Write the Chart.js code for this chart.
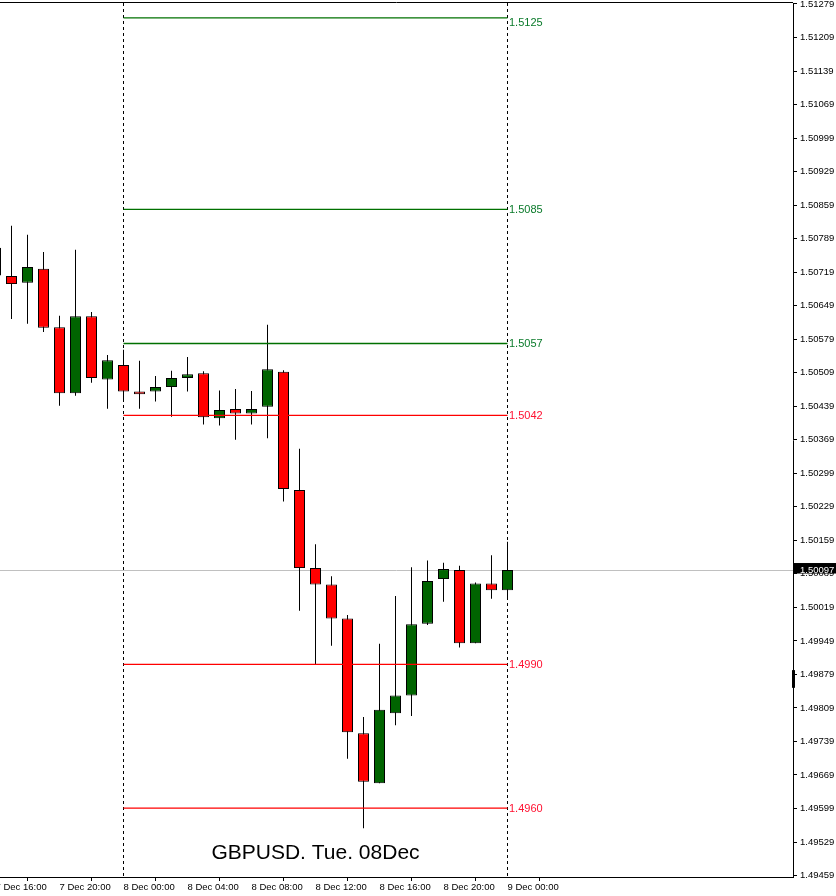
<!DOCTYPE html>
<html>
<head>
<meta charset="utf-8">
<title>GBPUSD H1</title>
<script src="https://cdn.jsdelivr.net/npm/chart.js@4.4.1/dist/chart.umd.min.js"></script>
<style>
  html, body { margin: 0; padding: 0; background: #fff; }
</style>
</head>
<body>
<canvas id="pxChart" width="836" height="896"></canvas>
<script>
// H1 candles, x = hours from 8 Dec 00:00
const hours = [-8, -7, -6, -5, -4, -3, -2, -1, 0, 1, 2, 3, 4, 5, 6, 7, 8,
  9, 10, 11, 12, 13, 14, 15, 16, 17, 18, 19, 20, 21, 22, 23, 24];
const opens = [1.50770, 1.50711, 1.50697, 1.50726, 1.50604, 1.50466, 1.50627, 1.50495,
  1.50525, 1.50470, 1.50470, 1.50479, 1.50498, 1.50508, 1.50414, 1.50433, 1.50424,
  1.50438, 1.50511, 1.50264, 1.50101, 1.50067, 1.49996, 1.49756, 1.49652, 1.49798,
  1.49835, 1.49985, 1.50078, 1.50097, 1.49944, 1.50069, 1.50055];
const highs = [1.50790, 1.50816, 1.50797, 1.50761, 1.50628, 1.50766, 1.50636, 1.50546,
  1.50557, 1.50534, 1.50502, 1.50513, 1.50542, 1.50512, 1.50472, 1.50475, 1.50471,
  1.50609, 1.50514, 1.50350, 1.50151, 1.50084, 1.50003, 1.49790, 1.49943, 1.50043,
  1.50103, 1.50117, 1.50112, 1.50106, 1.50071, 1.50128, 1.50156];
const lows = [1.50700, 1.50621, 1.50611, 1.50594, 1.50440, 1.50461, 1.50488, 1.50434,
  1.50451, 1.50434, 1.50449, 1.50417, 1.50470, 1.50401, 1.50399, 1.50369, 1.50401,
  1.50372, 1.50240, 1.50012, 1.49901, 1.49939, 1.49703, 1.49558, 1.49652, 1.49773,
  1.49792, 1.49982, 1.50031, 1.49935, 1.49944, 1.50037, 1.50037];
const closes = [1.50712, 1.50694, 1.50730, 1.50603, 1.50466, 1.50627, 1.50498, 1.50535,
  1.50470, 1.50464, 1.50479, 1.50498, 1.50506, 1.50416, 1.50431, 1.50424, 1.50433,
  1.50516, 1.50266, 1.50101, 1.50067, 1.49996, 1.49758, 1.49655, 1.49805, 1.49835,
  1.49984, 1.50074, 1.50099, 1.49944, 1.50069, 1.50055, 1.50097];

const priceTicks = [1.51279, 1.51209, 1.51139, 1.51069, 1.50999, 1.50929, 1.50859,
  1.50789, 1.50719, 1.50649, 1.50579, 1.50509, 1.50439, 1.50369, 1.50299, 1.50229,
  1.50159, 1.50089, 1.50019, 1.49949, 1.49879, 1.49809, 1.49739, 1.49669, 1.49599,
  1.49529, 1.49459];
const timeTicks = [-8, -4, 0, 4, 8, 12, 16, 20, 24];
const timeLabels = ['7 Dec 16:00', '7 Dec 20:00', '8 Dec 00:00', '8 Dec 04:00',
  '8 Dec 08:00', '8 Dec 12:00', '8 Dec 16:00', '8 Dec 20:00', '9 Dec 00:00'];

// levels drawn between the two session separators
const levels = [1.5125, 1.5085, 1.5057, 1.5042, 1.4990, 1.4960];
const levelLabels = ['1.5125', '1.5085', '1.5057', '1.5042', '1.4990', '1.4960'];
const levelSide = ['up', 'up', 'up', 'down', 'down', 'down'];
const sessionStart = 0;
const sessionEnd = 24;
const lastPrice = 1.50097;
const markerRange = [1.49851, 1.49888];
const chartTitle = 'GBPUSD. Tue. 08Dec';

const UP = '#006400';
const DOWN = '#ff0000';
const FONT = "'Liberation Sans', Arial, sans-serif";

const bodies = hours.map((h, i) => ({ x: h, y: [opens[i], closes[i]] }));
const wicks = hours.map((h, i) => ({ x: h, y: [lows[i], highs[i]] }));

const levelSets = levels.map((v, i) => ({
  type: 'line',
  data: [{ x: sessionStart, y: v }, { x: sessionEnd, y: v }],
  borderColor: levelSide[i] === 'up' ? '#007000' : '#ff0000',
  borderWidth: 1.3,
  pointRadius: 0,
  fill: false,
  order: -1
}));

// separators, last price, labels, title
const decor = {
  id: 'decor',
  beforeDatasetsDraw(chart) {
    const { ctx, chartArea: a, scales: { x, y } } = chart;
    ctx.save();
    const py = Math.round(y.getPixelForValue(lastPrice)) + 0.5;
    ctx.strokeStyle = '#c0c0c0';
    ctx.lineWidth = 1;
    ctx.beginPath();
    ctx.moveTo(0, py);
    ctx.lineTo(a.right, py);
    ctx.stroke();

    ctx.strokeStyle = '#000';
    ctx.setLineDash([3, 3]);
    [sessionStart, sessionEnd].forEach(h => {
      const px = x.getPixelForValue(h);
      ctx.beginPath();
      ctx.moveTo(px, a.top);
      ctx.lineTo(px, a.bottom);
      ctx.stroke();
    });
    ctx.restore();
  },
  afterDraw(chart) {
    const { ctx, chartArea: a, scales: { x, y } } = chart;
    ctx.save();
    // top frame line
    ctx.strokeStyle = '#000';
    ctx.lineWidth = 1;
    ctx.beginPath();
    ctx.moveTo(0, a.top - 0.5);
    ctx.lineTo(a.right, a.top - 0.5);
    ctx.stroke();

    // level labels
    const lx = x.getPixelForValue(sessionEnd) + 1.5;
    ctx.font = '11px ' + FONT;
    ctx.textAlign = 'left';
    ctx.textBaseline = 'middle';
    levels.forEach((v, i) => {
      ctx.fillStyle = levelSide[i] === 'up' ? '#0a7a2a' : '#ff1030';
      const off = i === 0 ? 5 : 0;
      ctx.fillText(levelLabels[i], lx, y.getPixelForValue(v) + 0.5 + off);
    });

    // last price box
    const py = y.getPixelForValue(lastPrice);
    ctx.fillStyle = '#000';
    ctx.fillRect(a.right + 1, py - 7, chart.width - a.right, 10.5);
    ctx.fillStyle = '#fff';
    ctx.font = '9.5px ' + FONT;
    ctx.textBaseline = 'alphabetic';
    ctx.fillText(lastPrice.toFixed(5), a.right + 7, py + 2.5);

    // small marker on the price axis
    const m1 = y.getPixelForValue(markerRange[1]);
    const m0 = y.getPixelForValue(markerRange[0]);
    ctx.fillStyle = '#000';
    ctx.fillRect(a.right - 1, m1, 3, m0 - m1);

    // title
    ctx.font = '21px ' + FONT;
    ctx.textAlign = 'center';
    ctx.textBaseline = 'middle';
    ctx.fillStyle = '#000';
    ctx.fillText(chartTitle, x.getPixelForValue((sessionStart + sessionEnd) / 2), 853);
    ctx.restore();
  }
};

new Chart(document.getElementById('pxChart'), {
  type: 'bar',
  data: {
    datasets: [
      {
        label: 'body',
        data: bodies,
        backgroundColor: c => closes[c.dataIndex] >= opens[c.dataIndex] ? UP : DOWN,
        borderColor: '#000',
        borderWidth: 1,
        borderSkipped: false,
        barThickness: 11,
        inflateAmount: 0,
        grouped: false,
        order: 0
      },
      {
        label: 'wick',
        data: wicks,
        backgroundColor: '#000',
        borderWidth: 0,
        barThickness: 1,
        inflateAmount: 0,
        grouped: false,
        order: 1
      },
      ...levelSets
    ]
  },
  options: {
    responsive: false,
    animation: false,
    layout: { autoPadding: false, padding: { left: 0, right: 0, top: 3, bottom: 0 } },
    plugins: { legend: { display: false }, tooltip: { enabled: false } },
    scales: {
      x: {
        type: 'linear',
        min: -7.71875,
        max: 41.84375,
        offset: false,
        grid: { drawOnChartArea: false, drawTicks: true, tickLength: 4, color: '#000' },
        border: { display: true, color: '#000' },
        ticks: {
          autoSkip: false,
          maxRotation: 0,
          align: 'start',
          padding: 1,
          color: '#000',
          font: { family: FONT, size: 9.5 },
          callback: v => {
            const i = timeTicks.indexOf(v);
            return i >= 0 ? timeLabels[i] : '';
          }
        },
        afterBuildTicks: s => { s.ticks = timeTicks.map(v => ({ value: v })); },
        afterFit: s => { s.height = 19; s.paddingLeft = 0; s.paddingRight = 0; }
      },
      y: {
        type: 'linear',
        position: 'right',
        min: 1.49456,
        max: 1.51281,
        grid: { drawOnChartArea: false, drawTicks: true, tickLength: 4, color: '#000' },
        border: { display: true, color: '#000' },
        ticks: {
          padding: 3,
          color: '#000',
          font: { family: FONT, size: 9.5 },
          callback: v => Number(v).toFixed(5)
        },
        afterBuildTicks: s => { s.ticks = priceTicks.map(v => ({ value: v })); },
        afterFit: s => { s.width = 43; s.paddingTop = 0; s.paddingBottom = 0; }
      }
    }
  },
  plugins: [decor]
});
</script>
</body>
</html>
